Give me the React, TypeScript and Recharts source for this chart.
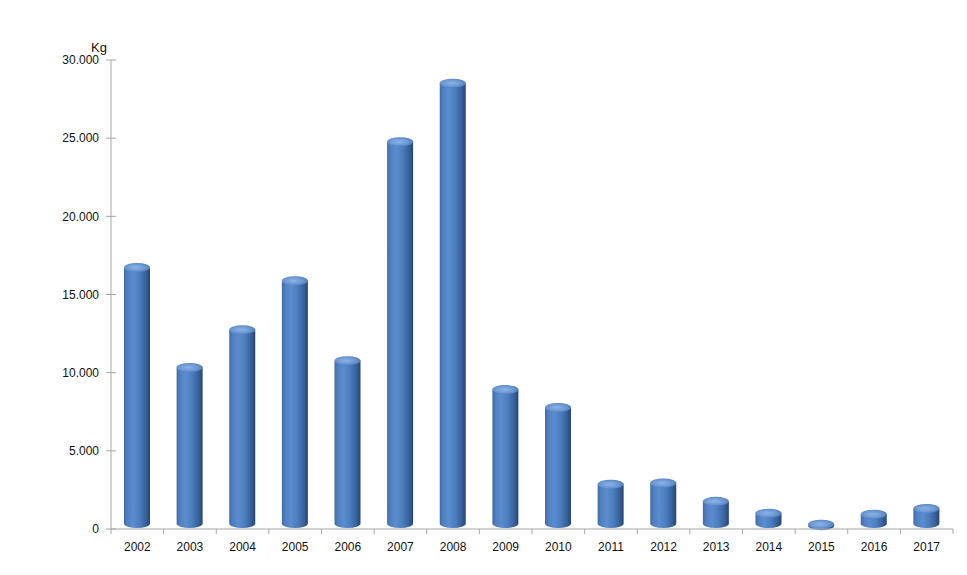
import React from 'react';
import { BarChart, Bar, XAxis, YAxis } from 'recharts';

const years = ['2002','2003','2004','2005','2006','2007','2008','2009','2010','2011','2012','2013','2014','2015','2016','2017'];
const kg = [16730, 10330, 12750, 15880, 10770, 24770, 28520, 8920, 7770, 2860, 2940, 1770, 1010, 310, 940, 1310];
const yTicks = [0, 5000, 10000, 15000, 20000, 25000, 30000];

const data = years.map((y, i) => ({ year: y, kg: kg[i] }));

const fmt = (v: number) => String(v).replace(/\B(?=(\d{3})+(?!\d))/g, '.');

const FONT = '"Liberation Sans", Arial, sans-serif';
const AXIS = '#a6a6a6';
const X_TICK_SIZE = 6;
const X_TICK_MARGIN = 7;
const Y_TICK_SIZE = 5;
const Y_TICK_MARGIN = 7;

const Cylinder = (props: any) => {
  const { x, y, width, height } = props;
  if (width == null || height == null) return null;
  const rx = width / 2;
  const ry = 4.5;
  const cx = x + rx;
  const bottom = y + height - 1;
  const bodyBottom = Math.max(bottom - ry, y + 1.5);
  const body = `M ${x} ${y} L ${x} ${bodyBottom} A ${rx} ${ry} 0 0 0 ${x + width} ${bodyBottom} L ${x + width} ${y} Z`;
  return (
    <g>
      <path d={body} fill="url(#cylBody)" />
      <ellipse cx={cx} cy={y} rx={rx} ry={ry} fill="url(#cylTop)" />
    </g>
  );
};

const XTick = (props: any) => {
  const { x, y, payload, index, visibleTicksCount } = props;
  const half = payload && payload.offset ? payload.offset : 0;
  const axisY = y - X_TICK_SIZE - X_TICK_MARGIN;
  const isLast = index === visibleTicksCount - 1;
  return (
    <g>
      <line x1={x - half} y1={axisY} x2={x - half} y2={axisY + 5} stroke={AXIS} />
      {isLast && <line x1={x + half} y1={axisY} x2={x + half} y2={axisY + 5} stroke={AXIS} />}
      <text x={x} y={y} dy="0.71em" textAnchor="middle" fontSize={12} fontFamily={FONT} fill="#111">
        {payload.value}
      </text>
    </g>
  );
};

const YTick = (props: any) => {
  const { x, y, payload } = props;
  const axisX = x + Y_TICK_SIZE + Y_TICK_MARGIN;
  return (
    <g>
      <line x1={axisX - 5} y1={y} x2={axisX + 5} y2={y} stroke={AXIS} />
      <text x={x} y={y} dy="0.355em" textAnchor="end" fontSize={12} fontFamily={FONT} fill="#111">
        {fmt(payload.value)}
      </text>
    </g>
  );
};

export default function App() {
  return (
    <BarChart width={951} height={559} data={data} margin={{ top: 52, right: 6, left: 0, bottom: 8 }} barSize={26}>
      <defs>
        <linearGradient id="cylBody" x1="0" y1="0" x2="1" y2="0">
          <stop offset="0%" stopColor="#3f6aa6" />
          <stop offset="12%" stopColor="#4f7fc0" />
          <stop offset="35%" stopColor="#5a8dcf" />
          <stop offset="60%" stopColor="#4c7dbd" />
          <stop offset="85%" stopColor="#36609a" />
          <stop offset="100%" stopColor="#264670" />
        </linearGradient>
        <radialGradient id="cylTop" cx="0.45" cy="0.5" r="0.6">
          <stop offset="0%" stopColor="#8db3e6" />
          <stop offset="60%" stopColor="#6b98d4" />
          <stop offset="100%" stopColor="#4a78b6" />
        </radialGradient>
      </defs>
      <XAxis
        dataKey="year"
        height={30}
        axisLine={{ stroke: AXIS }}
        tickLine={false}
        tickSize={X_TICK_SIZE}
        tickMargin={X_TICK_MARGIN}
        interval={0}
        tick={<XTick />}
      />
      <YAxis
        width={103}
        domain={[0, 30000]}
        ticks={yTicks}
        interval={0}
        tickSize={Y_TICK_SIZE}
        tickMargin={Y_TICK_MARGIN}
        axisLine={{ stroke: AXIS }}
        tickLine={false}
        tick={<YTick />}
        label={{
          value: 'Kg',
          content: (p: any) => (
            <text x={p.viewBox.x + p.viewBox.width - 4} y={p.viewBox.y - 8} textAnchor="end" fontSize={13} fontFamily={FONT} fill="#111">
              Kg
            </text>
          ),
        }}
      />
      <Bar dataKey="kg" shape={<Cylinder />} isAnimationActive={false} />
    </BarChart>
  );
}
